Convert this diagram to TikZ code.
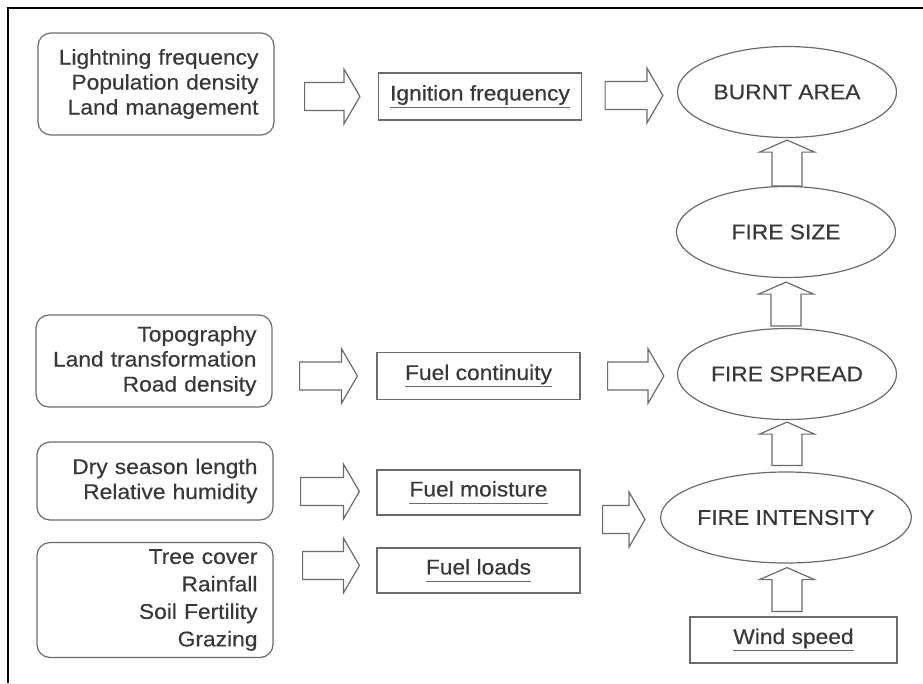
\documentclass[tikz,border=0pt]{standalone}
\usepackage{fontspec}
\setmainfont[FakeStretch=1.07,FakeBold=0.4]{Liberation Sans}
\usetikzlibrary{shapes.geometric,calc}
\definecolor{ln}{gray}{0.42}
\definecolor{tx}{gray}{0.22}
\newcommand\ultext[1]{\setbox0\hbox{#1}\rlap{\color{ln}\rule[-7.5pt]{\wd0}{1.1pt}}\box0}
\newcommand\rarr[2]{\draw[blockarr] let \p1=#1, \p2=#2 in
  (\x1,\y2+14pt) -- (\x2-16pt,\y2+14pt) -- (\x2-16pt,\y2+27.5pt) -- (\x2,\y2)
  -- (\x2-16pt,\y2-27.5pt) -- (\x2-16pt,\y2-14pt) -- (\x1,\y2-14pt) -- cycle;}
\newcommand\uarr[2]{\draw[blockarr] let \p1=#1, \p2=#2 in
  (\x2-15pt,\y1) -- (\x2-15pt,\y2-12pt) -- (\x2-27.5pt,\y2-12pt) -- (\x2,\y2)
  -- (\x2+27.5pt,\y2-12pt) -- (\x2+15pt,\y2-12pt) -- (\x2+15pt,\y1) -- cycle;}
\begin{document}
\begin{tikzpicture}[x=1pt,y=-1pt,
  every node/.style={text=tx,font=\fontsize{21.3}{25}\selectfont},
  factorbox/.style={draw=ln,line width=1.2pt,rounded corners=13pt,align=right,
    text width=205pt,inner xsep=15pt,inner ysep=0pt,minimum width=236pt},
  fuelbox/.style={draw=ln,line width=1.2pt,inner sep=0pt,minimum width=203pt,minimum height=47pt},
  fireell/.style={draw=ln,line width=1.2pt,ellipse,inner sep=0pt,minimum width=219pt,minimum height=91pt},
  blockarr/.style={draw=ln,line width=1.2pt,fill=white,line join=miter},
  frame/.style={draw=black,line width=2pt}]
\useasboundingbox (0,0) rectangle (923,683);
\draw[frame] (8,683) -- (8,8) -- (923,8);
% left factor boxes
\node[factorbox,minimum height=102pt] (lf) at (156,84) {Lightning frequency\\Population density\\Land management};
\node[factorbox,minimum height=92pt] (topo) at (154,361) {Topography\\Land transformation\\Road density};
\node[factorbox,minimum height=78pt] (dry) at (155,481) {Dry season length\\Relative humidity};
\node[factorbox,minimum height=115pt,font=\fontsize{21.3}{27.5}\selectfont] (tree) at (155,600) {Tree cover\\Rainfall\\Soil Fertility\\Grazing};
% middle boxes
\node[fuelbox] (ign) at (480,96.5) {\ultext{Ignition frequency}};
\node[fuelbox] (fc) at (478.5,376) {\ultext{Fuel continuity}};
\node[fuelbox,minimum height=45pt] (fm) at (478.5,492.5) {\ultext{Fuel moisture}};
\node[fuelbox,minimum height=45pt] (fl) at (478.5,570.5) {\ultext{Fuel loads}};
% fire ellipses
\node[fireell] (burnt) at (787,92) {BURNT AREA};
\node[fireell] (size) at (786,232) {FIRE SIZE};
\node[fireell] (spread) at (787,374) {FIRE SPREAD};
\node[fireell] (int) at (786,517.5) {FIRE INTENSITY};
\node[fuelbox,minimum width=207pt,minimum height=46pt] (wind) at (793.5,640) {\ultext{Wind speed}};
% right-pointing block arrows
\rarr{($(lf.east)+(30,0)$)}{($(ign.west)+(-18,0)$)}
\rarr{($(ign.east)+(23,0)$)}{($(burnt.west |- ign.east)+(-14,-1)$)}
\rarr{($(topo.east)+(27,0)$)}{($(fc.west)+(-19,0)$)}
\rarr{($(fc.east)+(27,0)$)}{($(spread.west |- fc.east)+(-13,0)$)}
\rarr{($(dry.east)+(27,0)$)}{($(fm.west)+(-17,-1)$)}
\rarr{($(tree.east)+(29,0)$)}{($(fl.west)+(-17,-5)$)}
\rarr{($(fm.east)+(22,0)$)}{($(int.west)+(-15,2)$)}
% upward block arrows
\uarr{(size.north)}{($(burnt.south)+(0,2)$)}
\uarr{($(spread.north)+(0,-2)$)}{($(size.south)+(0,4)$)}
\uarr{($(int.north)+(0,-6)$)}{($(spread.south)+(0,2)$)}
\uarr{($(wind.north)+(-6.5,-5)$)}{($(int.south)+(1,4)$)}
\end{tikzpicture}
\end{document}
